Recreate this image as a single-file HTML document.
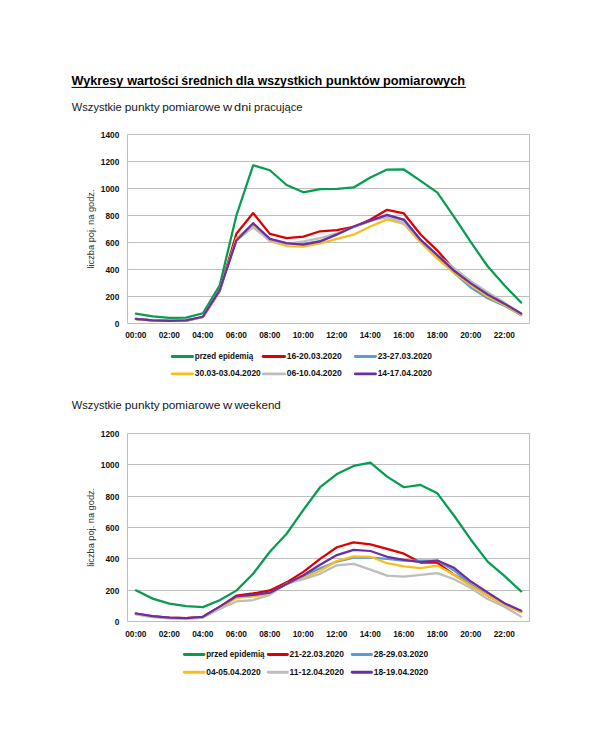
<!DOCTYPE html>
<html><head><meta charset="utf-8"><title>Wykresy</title>
<style>
html,body{margin:0;padding:0;background:#fff;width:604px;height:748px;overflow:hidden}
svg{display:block}
text{font-family:"Liberation Sans", sans-serif}
</style></head>
<body>
<svg width="604" height="748" viewBox="0 0 604 748">
<rect width="604" height="748" fill="#fff"/>
<text x="71.54" y="84.70" font-size="13.6" font-weight="bold" fill="#000" text-anchor="start" textLength="51.74" lengthAdjust="spacingAndGlyphs" >Wykresy</text>
<text x="127.25" y="84.70" font-size="13.6" font-weight="bold" fill="#000" text-anchor="start" textLength="51.32" lengthAdjust="spacingAndGlyphs" >wartości</text>
<text x="181.37" y="84.70" font-size="13.6" font-weight="bold" fill="#000" text-anchor="start" textLength="51.39" lengthAdjust="spacingAndGlyphs" >średnich</text>
<text x="235.86" y="84.70" font-size="13.6" font-weight="bold" fill="#000" text-anchor="start" textLength="18.20" lengthAdjust="spacingAndGlyphs" >dla</text>
<text x="257.74" y="84.70" font-size="13.6" font-weight="bold" fill="#000" text-anchor="start" textLength="64.44" lengthAdjust="spacingAndGlyphs" >wszystkich</text>
<text x="325.71" y="84.70" font-size="13.6" font-weight="bold" fill="#000" text-anchor="start" textLength="53.91" lengthAdjust="spacingAndGlyphs" >punktów</text>
<text x="382.88" y="84.70" font-size="13.6" font-weight="bold" fill="#000" text-anchor="start" textLength="82.23" lengthAdjust="spacingAndGlyphs" >pomiarowych</text>
<text x="71.84" y="110.80" font-size="10.8" font-weight="normal" fill="#161616" text-anchor="start" textLength="49.92" lengthAdjust="spacingAndGlyphs" >Wszystkie</text>
<text x="124.73" y="110.80" font-size="10.8" font-weight="normal" fill="#161616" text-anchor="start" textLength="34.89" lengthAdjust="spacingAndGlyphs" >punkty</text>
<text x="162.15" y="110.80" font-size="10.8" font-weight="normal" fill="#161616" text-anchor="start" textLength="58.12" lengthAdjust="spacingAndGlyphs" >pomiarowe</text>
<text x="222.90" y="110.80" font-size="10.8" font-weight="normal" fill="#161616" text-anchor="start" textLength="9.24" lengthAdjust="spacingAndGlyphs" >w</text>
<text x="234.08" y="110.80" font-size="10.8" font-weight="normal" fill="#161616" text-anchor="start" textLength="17.05" lengthAdjust="spacingAndGlyphs" >dni</text>
<text x="254.12" y="110.80" font-size="10.8" font-weight="normal" fill="#161616" text-anchor="start" textLength="48.41" lengthAdjust="spacingAndGlyphs" >pracujące</text>
<text x="71.84" y="408.60" font-size="10.8" font-weight="normal" fill="#161616" text-anchor="start" textLength="49.92" lengthAdjust="spacingAndGlyphs" >Wszystkie</text>
<text x="124.73" y="408.60" font-size="10.8" font-weight="normal" fill="#161616" text-anchor="start" textLength="34.89" lengthAdjust="spacingAndGlyphs" >punkty</text>
<text x="162.15" y="408.60" font-size="10.8" font-weight="normal" fill="#161616" text-anchor="start" textLength="58.12" lengthAdjust="spacingAndGlyphs" >pomiarowe</text>
<text x="222.90" y="408.60" font-size="10.8" font-weight="normal" fill="#161616" text-anchor="start" textLength="9.24" lengthAdjust="spacingAndGlyphs" >w</text>
<text x="234.40" y="408.60" font-size="10.8" font-weight="normal" fill="#161616" text-anchor="start" textLength="46.39" lengthAdjust="spacingAndGlyphs" >weekend</text>
<line x1="127.5" y1="323.50" x2="529.5" y2="323.50" stroke="#BEBEBE" stroke-width="1"/>
<text x="119.30" y="326.60" font-size="8.3" font-weight="bold" fill="#111" text-anchor="end" >0</text>
<line x1="127.5" y1="296.50" x2="529.5" y2="296.50" stroke="#BEBEBE" stroke-width="1"/>
<text x="119.30" y="299.60" font-size="8.3" font-weight="bold" fill="#111" text-anchor="end" >200</text>
<line x1="127.5" y1="269.50" x2="529.5" y2="269.50" stroke="#BEBEBE" stroke-width="1"/>
<text x="119.30" y="272.60" font-size="8.3" font-weight="bold" fill="#111" text-anchor="end" >400</text>
<line x1="127.5" y1="242.50" x2="529.5" y2="242.50" stroke="#BEBEBE" stroke-width="1"/>
<text x="119.30" y="245.60" font-size="8.3" font-weight="bold" fill="#111" text-anchor="end" >600</text>
<line x1="127.5" y1="215.50" x2="529.5" y2="215.50" stroke="#BEBEBE" stroke-width="1"/>
<text x="119.30" y="218.60" font-size="8.3" font-weight="bold" fill="#111" text-anchor="end" >800</text>
<line x1="127.5" y1="188.50" x2="529.5" y2="188.50" stroke="#BEBEBE" stroke-width="1"/>
<text x="119.30" y="191.60" font-size="8.3" font-weight="bold" fill="#111" text-anchor="end" >1000</text>
<line x1="127.5" y1="161.50" x2="529.5" y2="161.50" stroke="#BEBEBE" stroke-width="1"/>
<text x="119.30" y="164.60" font-size="8.3" font-weight="bold" fill="#111" text-anchor="end" >1200</text>
<line x1="127.5" y1="134.50" x2="529.5" y2="134.50" stroke="#BEBEBE" stroke-width="1"/>
<text x="119.30" y="137.60" font-size="8.3" font-weight="bold" fill="#111" text-anchor="end" >1400</text>
<line x1="127.5" y1="134.50" x2="127.5" y2="323.50" stroke="#BEBEBE" stroke-width="1"/>
<line x1="529.5" y1="134.50" x2="529.5" y2="323.50" stroke="#BEBEBE" stroke-width="1"/>
<text x="135.88" y="338.00" font-size="8.3" font-weight="bold" fill="#111" text-anchor="middle" >00:00</text>
<text x="169.38" y="338.00" font-size="8.3" font-weight="bold" fill="#111" text-anchor="middle" >02:00</text>
<text x="202.88" y="338.00" font-size="8.3" font-weight="bold" fill="#111" text-anchor="middle" >04:00</text>
<text x="236.38" y="338.00" font-size="8.3" font-weight="bold" fill="#111" text-anchor="middle" >06:00</text>
<text x="269.88" y="338.00" font-size="8.3" font-weight="bold" fill="#111" text-anchor="middle" >08:00</text>
<text x="303.38" y="338.00" font-size="8.3" font-weight="bold" fill="#111" text-anchor="middle" >10:00</text>
<text x="336.88" y="338.00" font-size="8.3" font-weight="bold" fill="#111" text-anchor="middle" >12:00</text>
<text x="370.38" y="338.00" font-size="8.3" font-weight="bold" fill="#111" text-anchor="middle" >14:00</text>
<text x="403.88" y="338.00" font-size="8.3" font-weight="bold" fill="#111" text-anchor="middle" >16:00</text>
<text x="437.38" y="338.00" font-size="8.3" font-weight="bold" fill="#111" text-anchor="middle" >18:00</text>
<text x="470.88" y="338.00" font-size="8.3" font-weight="bold" fill="#111" text-anchor="middle" >20:00</text>
<text x="504.38" y="338.00" font-size="8.3" font-weight="bold" fill="#111" text-anchor="middle" >22:00</text>
<text transform="translate(93.6 229) rotate(-90)" x="0" y="0" font-size="9" fill="#333" text-anchor="middle" textLength="79" lengthAdjust="spacingAndGlyphs">liczba poj. na godz.</text>
<polyline points="135.88,313.64 152.62,316.48 169.38,317.83 186.12,317.56 202.88,313.24 219.62,285.70 236.38,215.50 253.12,165.28 269.88,170.27 286.62,184.99 303.38,192.28 320.12,189.04 336.88,188.77 353.62,187.42 370.38,177.43 387.12,169.60 403.88,169.47 420.62,180.94 437.38,192.69 454.12,216.85 470.88,242.23 487.62,266.26 504.38,285.30 521.12,302.57" fill="none" stroke="#089C50" stroke-width="2.25" stroke-linejoin="round" stroke-linecap="round"/>
<polyline points="135.88,318.91 152.62,320.26 169.38,320.80 186.12,320.53 202.88,317.02 219.62,291.10 236.38,233.72 253.12,213.07 269.88,233.86 286.62,238.04 303.38,236.69 320.12,231.29 336.88,230.08 353.62,226.97 370.38,219.55 387.12,209.83 403.88,213.47 420.62,234.53 437.38,250.60 454.12,269.50 470.88,284.35 487.62,295.82 504.38,303.93 521.12,314.73" fill="none" stroke="#DE0000" stroke-width="2.25" stroke-linejoin="round" stroke-linecap="round"/>
<polyline points="135.88,319.05 152.62,320.39 169.38,320.94 186.12,320.67 202.88,317.02 219.62,290.43 236.38,239.12 253.12,224.27 269.88,239.12 286.62,243.58 303.38,243.85 320.12,241.15 336.88,234.40 353.62,226.97 370.38,220.90 387.12,215.50 403.88,220.22 420.62,239.80 437.38,256.68 454.12,272.88 470.88,287.59 487.62,298.25 504.38,305.81 521.12,315.13" fill="none" stroke="#5B9BD5" stroke-width="2.25" stroke-linejoin="round" stroke-linecap="round"/>
<polyline points="135.88,319.05 152.62,320.39 169.38,320.94 186.12,320.67 202.88,317.02 219.62,291.10 236.38,238.45 253.12,226.30 269.88,241.15 286.62,246.01 303.38,246.55 320.12,243.31 336.88,238.85 353.62,234.67 370.38,226.44 387.12,219.41 403.88,224.00 420.62,242.50 437.38,258.70 454.12,272.88 470.88,285.02 487.62,296.50 504.38,304.87 521.12,314.86" fill="none" stroke="#F7BE1C" stroke-width="2.25" stroke-linejoin="round" stroke-linecap="round"/>
<polyline points="135.88,319.05 152.62,320.39 169.38,320.94 186.12,320.67 202.88,317.02 219.62,290.43 236.38,240.47 253.12,227.25 269.88,240.47 286.62,243.85 303.38,241.42 320.12,238.04 336.88,233.32 353.62,226.97 370.38,220.90 387.12,217.25 403.88,222.93 420.62,240.47 437.38,255.32 454.12,268.15 470.88,281.25 487.62,292.18 504.38,302.57 521.12,313.78" fill="none" stroke="#BDBDBD" stroke-width="2.25" stroke-linejoin="round" stroke-linecap="round"/>
<polyline points="135.88,318.77 152.62,320.26 169.38,320.80 186.12,320.39 202.88,316.75 219.62,290.29 236.38,240.47 253.12,223.19 269.88,238.85 286.62,243.04 303.38,244.66 320.12,241.42 336.88,234.40 353.62,226.44 370.38,220.63 387.12,214.82 403.88,219.55 420.62,239.94 437.38,255.19 454.12,270.85 470.88,283.40 487.62,294.48 504.38,303.65 521.12,313.51" fill="none" stroke="#6C2FA0" stroke-width="2.25" stroke-linejoin="round" stroke-linecap="round"/>
<line x1="172.2" y1="356.5" x2="192.60000000000002" y2="356.5" stroke="#089C50" stroke-width="2.9" stroke-linecap="round"/>
<text x="194.80" y="358.90" font-size="8.3" font-weight="bold" fill="#111" text-anchor="start" textLength="58.40" lengthAdjust="spacingAndGlyphs" >przed epidemią</text>
<line x1="263.2" y1="356.5" x2="284.6" y2="356.5" stroke="#DE0000" stroke-width="2.9" stroke-linecap="round"/>
<text x="286.80" y="358.90" font-size="8.3" font-weight="bold" fill="#111" text-anchor="start" textLength="55.00" lengthAdjust="spacingAndGlyphs" >16-20.03.2020</text>
<line x1="355.4" y1="356.5" x2="375.5" y2="356.5" stroke="#5B9BD5" stroke-width="2.9" stroke-linecap="round"/>
<text x="377.70" y="358.90" font-size="8.3" font-weight="bold" fill="#111" text-anchor="start" textLength="54.30" lengthAdjust="spacingAndGlyphs" >23-27.03.2020</text>
<line x1="172.2" y1="373.9" x2="192.60000000000002" y2="373.9" stroke="#F7BE1C" stroke-width="2.9" stroke-linecap="round"/>
<text x="194.80" y="376.30" font-size="8.3" font-weight="bold" fill="#111" text-anchor="start" textLength="66.00" lengthAdjust="spacingAndGlyphs" >30.03-03.04.2020</text>
<line x1="263.2" y1="373.9" x2="284.6" y2="373.9" stroke="#BDBDBD" stroke-width="2.9" stroke-linecap="round"/>
<text x="286.80" y="376.30" font-size="8.3" font-weight="bold" fill="#111" text-anchor="start" textLength="55.00" lengthAdjust="spacingAndGlyphs" >06-10.04.2020</text>
<line x1="355.4" y1="373.9" x2="375.5" y2="373.9" stroke="#6C2FA0" stroke-width="2.9" stroke-linecap="round"/>
<text x="377.70" y="376.30" font-size="8.3" font-weight="bold" fill="#111" text-anchor="start" textLength="54.30" lengthAdjust="spacingAndGlyphs" >14-17.04.2020</text>
<line x1="127.5" y1="621.50" x2="529.5" y2="621.50" stroke="#BEBEBE" stroke-width="1"/>
<text x="119.30" y="624.60" font-size="8.3" font-weight="bold" fill="#111" text-anchor="end" >0</text>
<line x1="127.5" y1="590.50" x2="529.5" y2="590.50" stroke="#BEBEBE" stroke-width="1"/>
<text x="119.30" y="593.60" font-size="8.3" font-weight="bold" fill="#111" text-anchor="end" >200</text>
<line x1="127.5" y1="558.50" x2="529.5" y2="558.50" stroke="#BEBEBE" stroke-width="1"/>
<text x="119.30" y="561.60" font-size="8.3" font-weight="bold" fill="#111" text-anchor="end" >400</text>
<line x1="127.5" y1="527.50" x2="529.5" y2="527.50" stroke="#BEBEBE" stroke-width="1"/>
<text x="119.30" y="530.60" font-size="8.3" font-weight="bold" fill="#111" text-anchor="end" >600</text>
<line x1="127.5" y1="496.50" x2="529.5" y2="496.50" stroke="#BEBEBE" stroke-width="1"/>
<text x="119.30" y="499.60" font-size="8.3" font-weight="bold" fill="#111" text-anchor="end" >800</text>
<line x1="127.5" y1="464.50" x2="529.5" y2="464.50" stroke="#BEBEBE" stroke-width="1"/>
<text x="119.30" y="467.60" font-size="8.3" font-weight="bold" fill="#111" text-anchor="end" >1000</text>
<line x1="127.5" y1="433.50" x2="529.5" y2="433.50" stroke="#BEBEBE" stroke-width="1"/>
<text x="119.30" y="436.60" font-size="8.3" font-weight="bold" fill="#111" text-anchor="end" >1200</text>
<line x1="127.5" y1="433.50" x2="127.5" y2="621.50" stroke="#BEBEBE" stroke-width="1"/>
<line x1="529.5" y1="433.50" x2="529.5" y2="621.50" stroke="#BEBEBE" stroke-width="1"/>
<text x="135.88" y="637.10" font-size="8.3" font-weight="bold" fill="#111" text-anchor="middle" >00:00</text>
<text x="169.38" y="637.10" font-size="8.3" font-weight="bold" fill="#111" text-anchor="middle" >02:00</text>
<text x="202.88" y="637.10" font-size="8.3" font-weight="bold" fill="#111" text-anchor="middle" >04:00</text>
<text x="236.38" y="637.10" font-size="8.3" font-weight="bold" fill="#111" text-anchor="middle" >06:00</text>
<text x="269.88" y="637.10" font-size="8.3" font-weight="bold" fill="#111" text-anchor="middle" >08:00</text>
<text x="303.38" y="637.10" font-size="8.3" font-weight="bold" fill="#111" text-anchor="middle" >10:00</text>
<text x="336.88" y="637.10" font-size="8.3" font-weight="bold" fill="#111" text-anchor="middle" >12:00</text>
<text x="370.38" y="637.10" font-size="8.3" font-weight="bold" fill="#111" text-anchor="middle" >14:00</text>
<text x="403.88" y="637.10" font-size="8.3" font-weight="bold" fill="#111" text-anchor="middle" >16:00</text>
<text x="437.38" y="637.10" font-size="8.3" font-weight="bold" fill="#111" text-anchor="middle" >18:00</text>
<text x="470.88" y="637.10" font-size="8.3" font-weight="bold" fill="#111" text-anchor="middle" >20:00</text>
<text x="504.38" y="637.10" font-size="8.3" font-weight="bold" fill="#111" text-anchor="middle" >22:00</text>
<text transform="translate(93.6 527.3) rotate(-90)" x="0" y="0" font-size="9" fill="#333" text-anchor="middle" textLength="79" lengthAdjust="spacingAndGlyphs">liczba poj. na godz.</text>
<polyline points="135.88,590.32 152.62,598.63 169.38,603.64 186.12,606.15 202.88,607.09 219.62,600.19 236.38,590.64 253.12,573.72 269.88,551.78 286.62,533.77 303.38,509.95 320.12,487.24 336.88,474.08 353.62,465.93 370.38,462.64 387.12,476.58 403.88,487.24 420.62,484.89 437.38,493.35 454.12,515.75 470.88,539.72 487.62,561.65 504.38,575.91 521.12,591.42" fill="none" stroke="#089C50" stroke-width="2.25" stroke-linejoin="round" stroke-linecap="round"/>
<polyline points="135.88,613.67 152.62,616.33 169.38,617.74 186.12,618.21 202.88,616.80 219.62,607.09 236.38,595.65 253.12,593.46 269.88,590.48 286.62,582.33 303.38,571.84 320.12,558.83 336.88,547.24 353.62,542.38 370.38,544.42 387.12,548.96 403.88,553.66 420.62,562.59 437.38,562.75 454.12,574.81 470.88,584.84 487.62,595.65 504.38,604.27 521.12,611.79" fill="none" stroke="#DE0000" stroke-width="2.25" stroke-linejoin="round" stroke-linecap="round"/>
<polyline points="135.88,613.98 152.62,616.49 169.38,617.90 186.12,618.37 202.88,617.11 219.62,607.40 236.38,597.22 253.12,595.65 269.88,593.30 286.62,583.90 303.38,576.07 320.12,568.23 336.88,561.65 353.62,557.74 370.38,557.74 387.12,558.83 403.88,560.56 420.62,560.56 437.38,560.56 454.12,570.43 470.88,584.68 487.62,595.49 504.38,603.95 521.12,611.79" fill="none" stroke="#5B9BD5" stroke-width="2.25" stroke-linejoin="round" stroke-linecap="round"/>
<polyline points="135.88,614.14 152.62,616.80 169.38,618.05 186.12,618.52 202.88,617.27 219.62,607.71 236.38,598.00 253.12,596.43 269.88,593.61 286.62,583.90 303.38,578.26 320.12,570.74 336.88,561.03 353.62,556.33 370.38,556.80 387.12,563.22 403.88,566.35 420.62,568.08 437.38,565.57 454.12,574.81 470.88,585.94 487.62,595.81 504.38,604.58 521.12,612.26" fill="none" stroke="#F7BE1C" stroke-width="2.25" stroke-linejoin="round" stroke-linecap="round"/>
<polyline points="135.88,614.45 152.62,617.11 169.38,618.37 186.12,618.84 202.88,617.58 219.62,608.97 236.38,601.45 253.12,600.04 269.88,594.87 286.62,583.59 303.38,579.20 320.12,573.87 336.88,565.26 353.62,563.85 370.38,569.64 387.12,575.60 403.88,576.69 420.62,574.81 437.38,573.09 454.12,579.20 470.88,588.13 487.62,599.10 504.38,606.77 521.12,616.64" fill="none" stroke="#BDBDBD" stroke-width="2.25" stroke-linejoin="round" stroke-linecap="round"/>
<polyline points="135.88,613.51 152.62,616.17 169.38,617.74 186.12,618.21 202.88,616.80 219.62,606.62 236.38,596.28 253.12,594.87 269.88,592.67 286.62,583.90 303.38,575.28 320.12,564.79 336.88,555.07 353.62,549.90 370.38,551.00 387.12,556.80 403.88,559.93 420.62,562.12 437.38,560.56 454.12,567.76 470.88,581.55 487.62,592.52 504.38,603.17 521.12,610.85" fill="none" stroke="#6C2FA0" stroke-width="2.25" stroke-linejoin="round" stroke-linecap="round"/>
<line x1="184.39999999999998" y1="654.5" x2="204.0" y2="654.5" stroke="#089C50" stroke-width="2.9" stroke-linecap="round"/>
<text x="206.20" y="656.90" font-size="8.3" font-weight="bold" fill="#111" text-anchor="start" textLength="58.40" lengthAdjust="spacingAndGlyphs" >przed epidemią</text>
<line x1="268.3" y1="654.5" x2="287.40000000000003" y2="654.5" stroke="#DE0000" stroke-width="2.9" stroke-linecap="round"/>
<text x="289.60" y="656.90" font-size="8.3" font-weight="bold" fill="#111" text-anchor="start" textLength="54.40" lengthAdjust="spacingAndGlyphs" >21-22.03.2020</text>
<line x1="352.2" y1="654.5" x2="371.5" y2="654.5" stroke="#5B9BD5" stroke-width="2.9" stroke-linecap="round"/>
<text x="373.70" y="656.90" font-size="8.3" font-weight="bold" fill="#111" text-anchor="start" textLength="54.60" lengthAdjust="spacingAndGlyphs" >28-29.03.2020</text>
<line x1="184.39999999999998" y1="672.3" x2="204.0" y2="672.3" stroke="#F7BE1C" stroke-width="2.9" stroke-linecap="round"/>
<text x="206.20" y="674.70" font-size="8.3" font-weight="bold" fill="#111" text-anchor="start" textLength="54.40" lengthAdjust="spacingAndGlyphs" >04-05.04.2020</text>
<line x1="268.3" y1="672.3" x2="287.40000000000003" y2="672.3" stroke="#BDBDBD" stroke-width="2.9" stroke-linecap="round"/>
<text x="289.60" y="674.70" font-size="8.3" font-weight="bold" fill="#111" text-anchor="start" textLength="54.40" lengthAdjust="spacingAndGlyphs" >11-12.04.2020</text>
<line x1="352.2" y1="672.3" x2="371.5" y2="672.3" stroke="#6C2FA0" stroke-width="2.9" stroke-linecap="round"/>
<text x="373.70" y="674.70" font-size="8.3" font-weight="bold" fill="#111" text-anchor="start" textLength="54.60" lengthAdjust="spacingAndGlyphs" >18-19.04.2020</text>
<rect x="71.5" y="86.9" width="394.4" height="1.0" fill="#000"/>
</svg>
</body></html>
